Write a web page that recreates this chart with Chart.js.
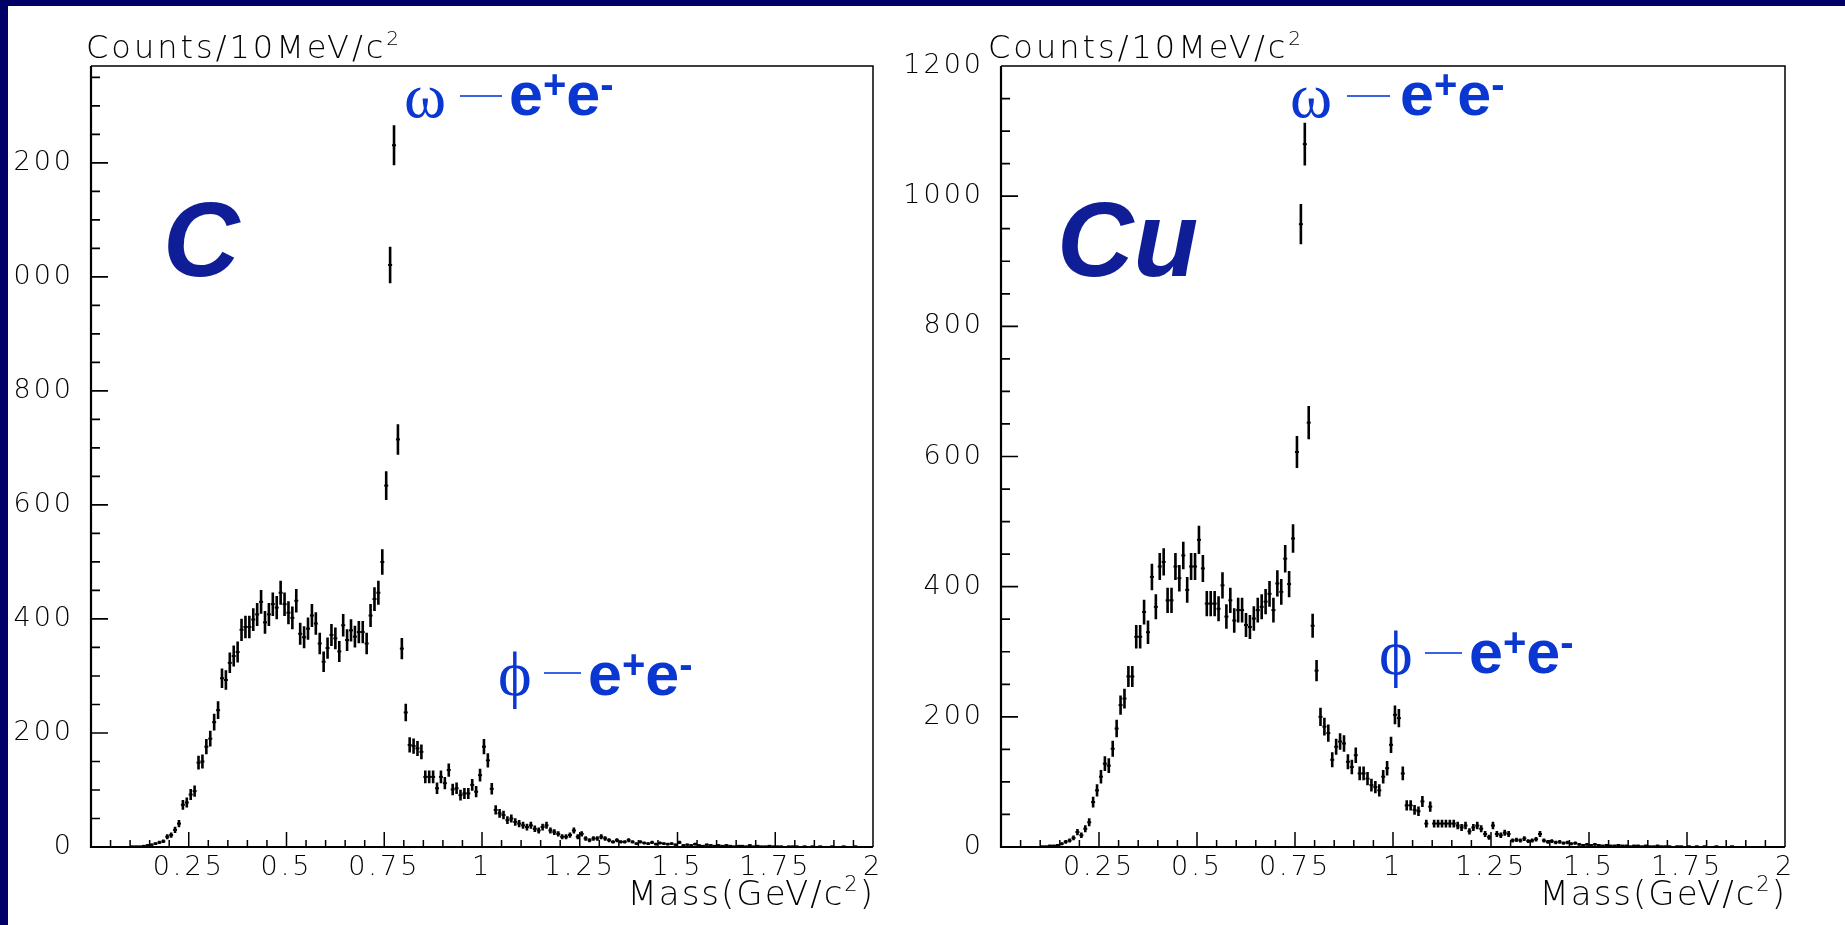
<!DOCTYPE html>
<html><head><meta charset="utf-8">
<script src="https://cdn.jsdelivr.net/npm/chart.js@4.4.1/dist/chart.umd.min.js"></script>
<style>
html,body{margin:0;padding:0;background:#fff;width:1845px;height:925px;overflow:hidden;position:relative}
canvas{position:absolute;top:0}
#c1{left:0}
#c2{left:870px}
.bt{position:absolute;left:0;top:0;width:1845px;height:6px;background:#000066;z-index:5}
.bl{position:absolute;left:0;top:0;width:8px;height:925px;background:#000066;z-index:5}
</style></head><body>
<canvas id="c1" width="920" height="925"></canvas>
<canvas id="c2" width="975" height="925"></canvas>
<div class="bt"></div><div class="bl"></div>
<script>
// ---------------- data ----------------
const massRange = [0, 2];          // GeV/c^2
const binWidth = 0.01;             // 10 MeV bins
const nBins = 200;
const massBins = Array.from({length: nBins}, (_, i) => +(massRange[0] + (i + 0.5) * binWidth).toFixed(3));

const countsC = [
  0,0,0,0,0,0,0,0,0,0,
  1,1,1,2,3,4,6,8,10,18,
  21,30,41,74,78,92,98,148,150,176,
  190,219,240,296,293,323,335,342,381,386,
  386,399,408,430,394,408,426,420,446,426,
  411,402,432,374,368,383,406,392,357,325,
  349,372,366,343,389,363,380,369,377,377,
  357,406,435,446,500,634,1021,1231,715,348,
  236,179,177,173,167,123,123,123,103,123,
  112,135,101,103,91,94,94,109,97,126,
  176,152,102,65,59,56,47,50,44,41,
  38,35,38,32,29,35,38,29,26,23,
  18,18,21,29,18,23,15,12,15,15,
  18,15,12,9,12,9,9,12,9,6,
  9,7,6,8,5,7,6,5,6,4,
  8,3,4,3,5,3,2,4,3,2,
  3,2,3,2,1,2,2,1,3,1,
  2,1,1,2,1,1,1,0,1,1,
  1,0,1,0,1,0,1,0,0,1,
  0,0,1,0,0,1,0,0,0,0
];

const countsCu = [
  0,0,0,0,0,0,0,0,0,0,
  1,1,2,2,3,5,8,10,14,23,
  18,28,38,69,87,108,128,125,151,182,
  218,228,262,262,323,323,361,330,415,369,
  431,438,379,379,431,413,448,395,431,431,
  472,428,374,374,374,366,402,354,379,348,
  364,364,341,338,351,364,369,377,389,364,
  405,392,443,404,474,607,957,1080,652,340,
  271,200,185,175,134,154,162,159,131,123,
  141,113,113,105,95,92,87,108,121,157,
  203,198,113,64,64,57,55,70,36,62,
  36,36,36,36,36,36,33,30,33,24,
  30,33,28,20,15,33,20,18,22,20,
  10,11,10,13,9,10,12,20,10,8,
  9,7,8,6,7,5,6,4,3,4,
  3,4,3,2,3,2,2,3,2,2,
  1,2,2,1,2,1,1,2,1,1,
  1,0,1,1,0,1,0,1,0,1,
  0,0,1,0,0,0,1,0,0,0,
  0,0,0,0,0,0,0,0,0,0
];

const xTickValues = [0.25, 0.5, 0.75, 1, 1.25, 1.5, 1.75, 2];
const xTickLabels = ['0.25', '0.5', '0.75', '1', '1.25', '1.5', '1.75', '2'];
const yTickValues = [0, 200, 400, 600, 800, 1000, 1200];
const yTickLabels = ['0', '200', '400', '600', '800', '1000', '1200'];

// ---------------- style ----------------
const TXT = '"DejaVu Sans", sans-serif';
const BLUE = '#0a37d2';
const DASH = '#3a62e6';
const NAVY = '#0f1e96';
const SANSB = '"Liberation Sans", Arial, sans-serif';
const SERIF = '"Liberation Serif", "DejaVu Serif", "Times New Roman", serif';

function drawParts(ctx, parts, x, baseline, size, spacing, align) {
  const widths = parts.map(([t, sup]) => {
    ctx.font = `200 ${sup ? Math.round(size * 0.62) : size}px ${TXT}`;
    ctx.letterSpacing = spacing + 'px';
    return ctx.measureText(t).width;
  });
  const total = widths.reduce((a, b) => a + b, 0);
  let cx = align === 'right' ? x - total : x;
  ctx.textAlign = 'left'; ctx.textBaseline = 'alphabetic'; ctx.fillStyle = '#000';
  parts.forEach(([t, sup], i) => {
    ctx.font = `200 ${sup ? Math.round(size * 0.62) : size}px ${TXT}`;
    ctx.letterSpacing = spacing + 'px';
    ctx.fillText(t, cx, sup ? baseline - size * 0.42 : baseline);
    cx += widths[i];
  });
  ctx.letterSpacing = '0px';
}

function drawEE(ctx, x, baseline) {
  ctx.fillStyle = BLUE; ctx.textAlign = 'left'; ctx.textBaseline = 'alphabetic';
  ctx.letterSpacing = '0px';
  const big = `bold 61px ${SANSB}`, small = `bold 40px ${SANSB}`;
  ctx.font = big; ctx.fillText('e', x, baseline); x += ctx.measureText('e').width;
  ctx.font = small; ctx.fillText('+', x, baseline - 17); x += ctx.measureText('+').width;
  ctx.font = big; ctx.fillText('e', x, baseline); x += ctx.measureText('e').width;
  ctx.font = small; ctx.fillText('-', x, baseline - 17);
}

function drawGreek(ctx, ch, x, baseline, size) {
  ctx.fillStyle = BLUE; ctx.textAlign = 'left'; ctx.textBaseline = 'alphabetic';
  ctx.letterSpacing = '0px';
  ctx.font = `${size}px ${SERIF}`;
  ctx.fillText(ch, x, baseline);
}

function drawDash(ctx, x1, x2, y) {
  ctx.save(); ctx.strokeStyle = DASH; ctx.lineWidth = 2;
  ctx.beginPath(); ctx.moveTo(x1, y); ctx.lineTo(x2, y); ctx.stroke(); ctx.restore();
}

// plugin: ROOT-like frame, inside ticks, error bars, titles and labels
const rootPlugin = {
  id: 'rootStyle',
  beforeDraw(chart) { chart.ctx.letterSpacing = '3px'; },
  afterDatasetsDraw(chart) {
    const ctx = chart.ctx, ys = chart.scales.y;
    const ds = chart.data.datasets[0], meta = chart.getDatasetMeta(0);
    ctx.save();
    ctx.strokeStyle = '#000'; ctx.lineWidth = 2.6;
    ctx.beginPath();
    meta.data.forEach((pt, i) => {
      const v = ds.data[i].y, e = Math.sqrt(v);
      const yTop = ys.getPixelForValue(v + e), yBot = ys.getPixelForValue(Math.max(v - e, 0));
      ctx.moveTo(pt.x, yTop); ctx.lineTo(pt.x, yBot);
    });
    ctx.stroke();
    ctx.restore();
  },
  afterDraw(chart, args, opts) {
    const ctx = chart.ctx, xs = chart.scales.x, ys = chart.scales.y;
    const {left, right, top, bottom} = chart.chartArea;
    ctx.save();
    ctx.strokeStyle = '#000';
    ctx.lineWidth = 1.5;
    ctx.beginPath(); ctx.moveTo(left, top); ctx.lineTo(right, top); ctx.lineTo(right, bottom); ctx.stroke();
    ctx.lineWidth = 2.2;
    ctx.beginPath(); ctx.moveTo(left, top); ctx.lineTo(left, bottom); ctx.lineTo(right, bottom); ctx.stroke();
    ctx.lineWidth = 1.5;
    ctx.beginPath();
    for (let k = 1; k < 40; k++) {
      const px = xs.getPixelForValue(k * 0.05);
      const len = (k % 5 === 0) ? 15 : 7;
      ctx.moveTo(px, bottom); ctx.lineTo(px, bottom - len);
    }
    ctx.stroke();
    ctx.lineWidth = 1.7;
    ctx.beginPath();
    for (let v = 50; v < ys.max; v += 50) {
      const py = ys.getPixelForValue(v);
      const len = (v % 200 === 0) ? 17 : 9;
      ctx.moveTo(left, py); ctx.lineTo(left + len, py);
    }
    ctx.stroke();
    ctx.restore();

    ctx.save();
    const o = opts.offset;
    drawParts(ctx, [['Counts/10MeV/c', false], ['2', true]], opts.titleX - o, 58, 32, 3, 'left');
    drawParts(ctx, [['Mass(GeV/c', false], ['2', true], [')', false]], right + 2, 905, 34, 2, 'right');
    ctx.fillStyle = NAVY; ctx.letterSpacing = '0px'; ctx.textAlign = 'left'; ctx.textBaseline = 'alphabetic';
    ctx.font = `italic bold 106px ${SANSB}`;
    ctx.fillText(opts.target, opts.targetX - o, 276);
    const a = opts.ann;
    drawGreek(ctx, '\u03C9', a.omX - o, 117, 64);
    drawDash(ctx, a.omD1 - o, a.omD2 - o, 96);
    drawEE(ctx, a.omEE - o, 115);
    drawGreek(ctx, '\u03D5', a.phX - o, a.phBase, 64);
    drawDash(ctx, a.phD1 - o, a.phD2 - o, a.phDy);
    drawEE(ctx, a.phEE - o, a.phEEBase);
    ctx.restore();
  }
};

function makeChart(id, counts, yMax, cfg) {
  const pts = [];
  counts.forEach((c, i) => { if (c > 0) pts.push({x: massBins[i], y: c}); });
  return new Chart(document.getElementById(id), {
    type: 'scatter',
    data: {datasets: [{
      data: pts,
      pointStyle: 'line',
      pointRadius: 2,
      pointBorderWidth: 2,
      borderColor: '#000',
      backgroundColor: '#000',
      showLine: false
    }]},
    options: {
      responsive: false,
      maintainAspectRatio: false,
      animation: false,
      events: [],
      layout: {padding: {left: 0, top: 66, right: cfg.padRight, bottom: 0}},
      plugins: {legend: {display: false}, tooltip: {enabled: false}, rootStyle: cfg},
      scales: {
        x: {
          type: 'linear', min: massRange[0], max: massRange[1],
          grid: {display: false, drawTicks: false}, border: {display: false},
          afterFit: s => { s.height = 78; },
          afterBuildTicks: s => { s.ticks = xTickValues.map(v => ({value: v})); },
          ticks: {autoSkip: false, maxRotation: 0, padding: 5, color: '#000',
                  font: {family: TXT, size: 27, weight: '200'},
                  callback: (v, i) => xTickLabels[i]}
        },
        y: {
          type: 'linear', min: 0, max: yMax,
          grid: {display: false, drawTicks: false}, border: {display: false},
          afterFit: s => { s.width = cfg.yWidth; },
          afterBuildTicks: s => { s.ticks = yTickValues.map(v => ({value: v})); },
          ticks: {autoSkip: false, padding: 17, color: '#000',
                  font: {family: TXT, size: 27, weight: '200'},
                  callback: (v, i) => yTickLabels[i]}
        }
      }
    },
    plugins: [rootPlugin]
  });
}

makeChart('c1', countsC, 1370, {
  offset: 0, yWidth: 91, padRight: 47, titleX: 86, target: 'C', targetX: 163,
  ann: {omX: 404, omD1: 460, omD2: 502, omEE: 509,
        phX: 498, phBase: 695, phD1: 544, phD2: 581, phDy: 673, phEE: 588, phEEBase: 695}
});
makeChart('c2', countsCu, 1200, {
  offset: 870, yWidth: 131, padRight: 60, titleX: 988, target: 'Cu', targetX: 1057,
  ann: {omX: 1290, omD1: 1347, omD2: 1390, omEE: 1400,
        phX: 1379, phBase: 674, phD1: 1425, phD2: 1462, phDy: 653, phEE: 1469, phEEBase: 673}
});
</script>
</body></html>
